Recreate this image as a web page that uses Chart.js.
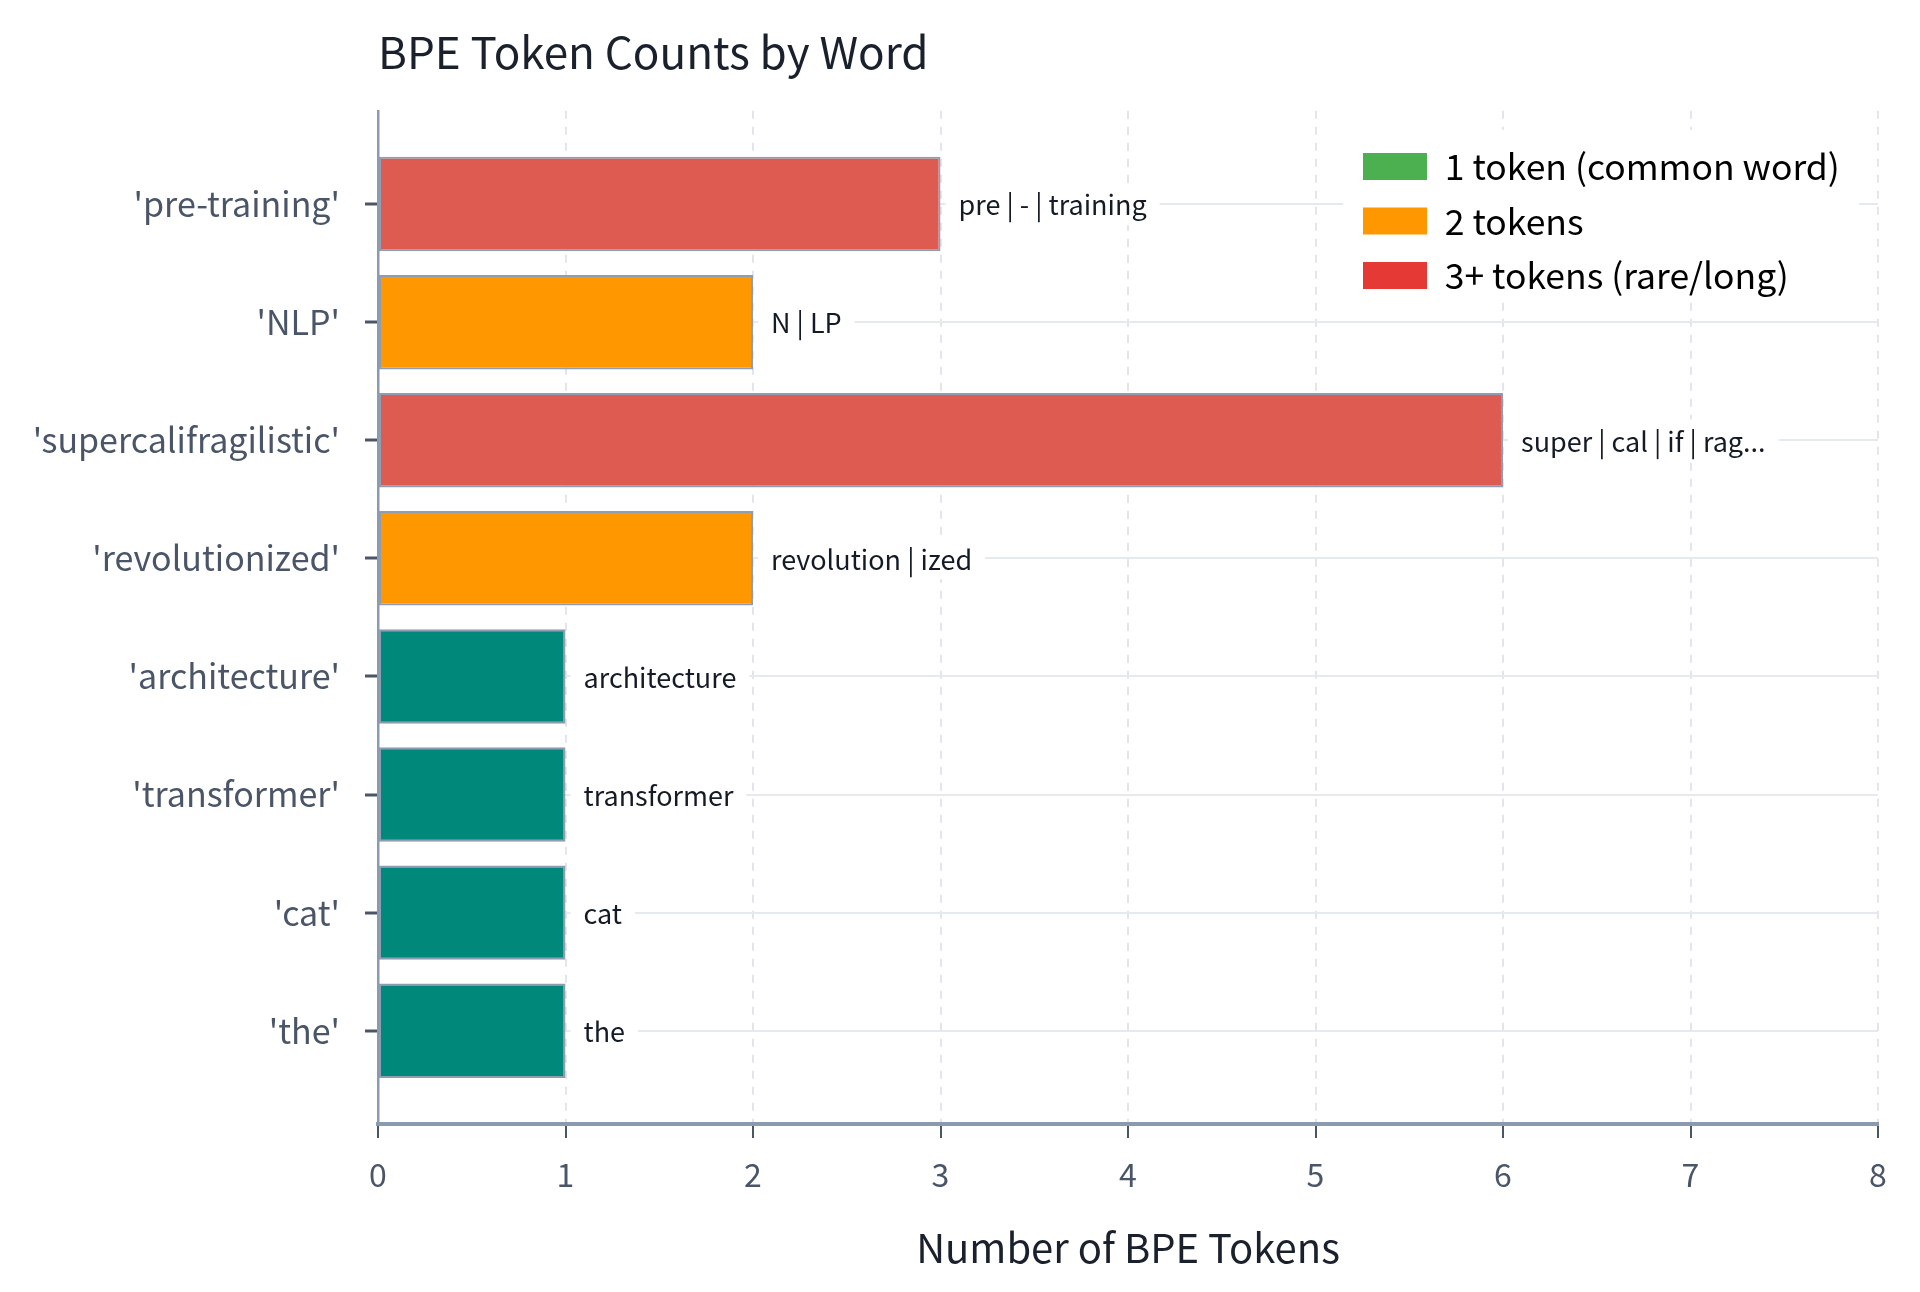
<!DOCTYPE html>
<html>
<head>
<meta charset="utf-8">
<title>BPE Token Counts by Word</title>
<script src="https://cdn.jsdelivr.net/npm/chart.js@4.4.0/dist/chart.umd.min.js"></script>
<style>
  html, body { margin: 0; padding: 0; background: #ffffff; }
</style>
</head>
<body>
<canvas id="myChart" width="1920" height="1292"></canvas>
<script>
// chart data
const words = ["'pre-training'", "'NLP'", "'supercalifragilistic'", "'revolutionized'", "'architecture'", "'transformer'", "'cat'", "'the'"];
const tokenCounts = [3, 2, 6, 2, 1, 1, 1, 1];
const tokenSplits = ['pre | - | training', 'N | LP', 'super | cal | if | rag...', 'revolution | ized', 'architecture', 'transformer', 'cat', 'the'];
const xTicks = [0, 1, 2, 3, 4, 5, 6, 7, 8];
const legendLabels = ['1 token (common word)', '2 tokens', '3+ tokens (rare/long)'];
const legendColors = ['#4CAF50', '#FF9800', '#E53935'];

const FONT = '"Noto Sans CJK KR", "Noto Sans", sans-serif';
Chart.defaults.font.family = FONT;

// bar colour by token count
function barColor(n) {
  if (n === 1) return '#00897B';
  if (n === 2) return '#FF9800';
  return '#DD5B50';
}

// Text next to each bar, on a white patch
const barLabels = {
  id: 'barLabels',
  afterDatasetsDraw(chart) {
    const ctx = chart.ctx;
    const meta = chart.getDatasetMeta(0);
    ctx.save();
    ctx.font = '27px ' + FONT;
    ctx.textBaseline = 'middle';
    meta.data.forEach((bar, i) => {
      const text = tokenSplits[i];
      const w = ctx.measureText(text).width;
      ctx.fillStyle = '#ffffff';
      ctx.fillRect(bar.x + 5, bar.y - 21, w + 26, 42);
      ctx.fillStyle = '#151b26';
      ctx.fillText(text, bar.x + 18, bar.y + 1);
    });
    ctx.restore();
  }
};

// Move title and legend to where they sit in the reference
const placeBlocks = {
  id: 'placeBlocks',
  afterLayout(chart) {
    const area = chart.chartArea;
    const t = chart.titleBlock;
    if (t) t.left = area.left;

    const lg = chart.legend;
    if (!lg) return;
    lg.left = 1344;
    lg.top = area.top + 19;
    lg.right = lg.left + lg.width;
    lg.bottom = lg.top + lg.height;
    if (!lg._bgWrapped) {
      const orig = lg.draw.bind(lg);
      lg.draw = function (a) {
        const ctx = chart.ctx;
        ctx.save();
        ctx.fillStyle = '#ffffff';
        ctx.fillRect(1343, chart.chartArea.top + 19, 516, 172);
        ctx.restore();
        orig(a);
      };
      lg._bgWrapped = true;
    }
  }
};

const chart = document.getElementById('myChart').getContext('2d');
const myChart = new Chart(chart, {
  type: 'bar',
  data: {
    datasets: [
      {
        label: 'Tokens',
        data: tokenCounts.map((v, i) => ({ x: v, y: i })),
        backgroundColor: tokenCounts.map(barColor),
        borderColor: '#8e9db2',
        borderWidth: 2,
        borderSkipped: false,
        categoryPercentage: 0.8,
        barPercentage: 1.0,
      },
    ],
  },
  plugins: [barLabels, placeBlocks],
  options: {
    responsive: false,
    devicePixelRatio: 1,
    animation: false,
    indexAxis: 'y',
    layout: {
      padding: { left: 0, right: 42, top: 0, bottom: 0 },
    },
    plugins: {
      title: {
        display: true,
        text: 'BPE Token Counts by Word',
        align: 'start',
        color: '#1a202c',
        font: { size: 44, weight: 'normal' },
        padding: { top: 26, bottom: 32 },
      },
      legend: {
        position: 'chartArea',
        align: 'start',
        labels: {
          boxWidth: 64,
          boxHeight: 27,
          padding: 19,
          color: '#1a202c',
          font: { size: 35.5 },
          generateLabels: () =>
            legendLabels.map((text, i) => ({
              text: text,
              fillStyle: legendColors[i],
              strokeStyle: legendColors[i],
              lineWidth: 0,
              hidden: false,
              datasetIndex: 0,
            })),
        },
      },
      tooltip: { enabled: false },
    },
    scales: {
      x: {
        type: 'linear',
        position: 'bottom',
        min: 0,
        max: 8,
        afterBuildTicks: (axis) => {
          axis.ticks = xTicks.map((v) => ({ value: v }));
        },
        afterFit: (scale) => {
          scale.height = 168;
        },
        ticks: {
          color: '#4a5568',
          font: { size: 32 },
          padding: 18,
        },
        grid: {
          color: '#e2e6ec',
          lineWidth: 2,
          tickColor: '#4a5568',
          tickLength: 14,
          tickWidth: 2,
        },
        border: {
          color: '#8a9bb0',
          width: 4,
          dash: [8, 8],
        },
        title: {
          display: true,
          text: 'Number of BPE Tokens',
          color: '#1a202c',
          font: { size: 40 },
          padding: { top: 0, bottom: 20 },
        },
      },
      y: {
        type: 'linear',
        reverse: true,
        offset: false,
        min: -0.79,
        max: 7.79,
        afterBuildTicks: (axis) => {
          axis.ticks = words.map((w, i) => ({ value: i }));
        },
        afterFit: (scale) => {
          scale.width = 378;
        },
        ticks: {
          color: '#4a5568',
          font: { size: 34 },
          padding: 25,
          callback: (v) => words[v],
        },
        grid: {
          offset: false,
          color: '#e5e9f0',
          lineWidth: 2,
          tickColor: '#4a5568',
          tickLength: 13,
          tickWidth: 3,
        },
        border: {
          color: '#8a9bb0',
          width: 2.5,
        },
      },
    },
  },
});
</script>
</body>
</html>
